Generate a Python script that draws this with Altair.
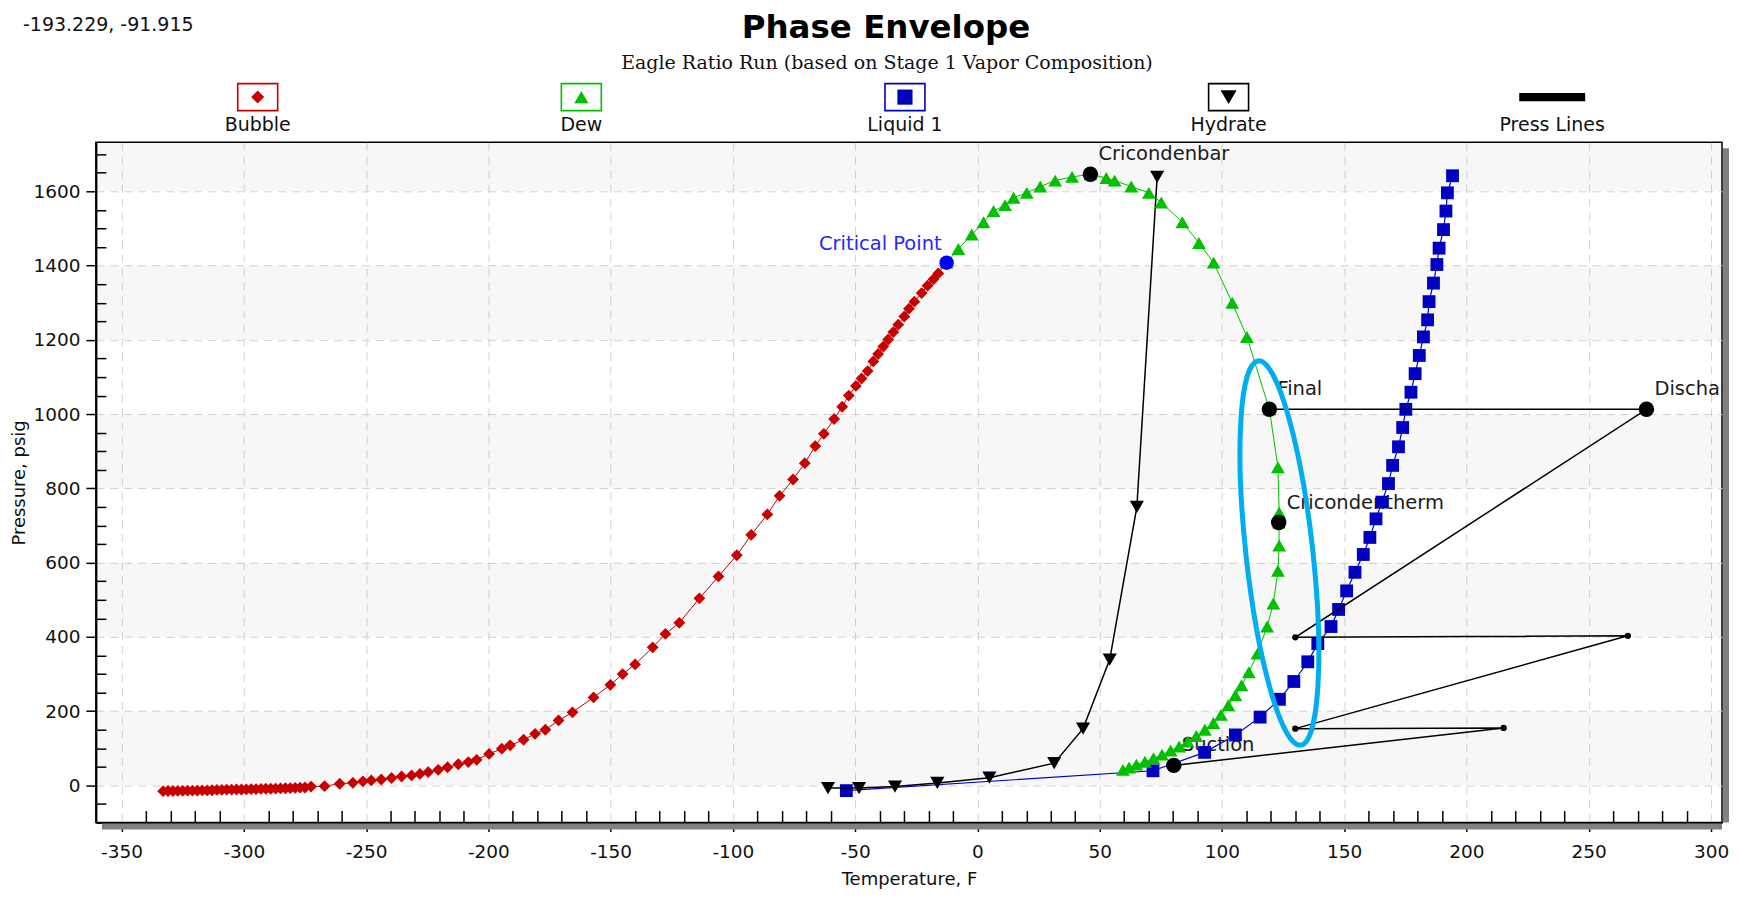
import altair as alt
import pandas as pd

# ---------------- data ----------------
bubble_T = [-333, -331, -329, -327, -325, -323, -321, -319, -317, -315, -313, -311, -309, -307, -305,
            -303, -301, -299, -297, -295, -293, -291, -289, -287, -285, -283, -281, -279, -277, -275,
            -272.5, -267, -260.8, -255.4, -251.3, -247.9, -243.8, -239.6, -235.5, -231.4,
            -228, -224.6, -220.5, -216.7, -212.3, -208.2, -204.8, -199.7, -194.5, -191.1,
            -185.6, -180.9, -176.7, -171.3, -165.6, -157, -150.1, -145.1, -140, -132.8,
            -127.6, -121.9, -113.7, -105.9, -98.4, -92.5, -85.9, -80.9, -75.4, -70.6,
            -66.3, -62.8, -58.6, -55.3, -52.6, -49.7, -47.4, -44.9, -42.6, -40.6,
            -38.5, -36.5, -34.4, -32.4, -29.9, -28, -25.8, -22.8, -20.4, -18, -16, -12.6]
bubble_P = [-15.5, -15, -15, -14.5, -14.5, -14, -14, -14, -13.5, -13.5, -13, -12, -12, -11.5, -11.5,
            -11, -11, -10.5, -10, -10, -9.5, -9, -9, -8.5, -8, -7.5, -7, -6.5, -6, -5.5,
            -3, -2, 4.5, 7, 11, 13.5, 16, 20, 24, 27,
            31, 36, 42, 49, 57, 63, 69, 85, 99, 108,
            123, 139, 150, 175, 197, 237, 271, 300, 326, 372,
            408, 438, 504, 563, 620, 675, 730, 780, 824, 868,
            914, 947, 987, 1020, 1050, 1076, 1096, 1116, 1142, 1162,
            1182, 1201, 1221, 1241, 1263, 1284, 1303, 1326, 1346, 1363, 1379, 1408]

dew_T = [-12.6, -7.8, -2.3, 2.5, 6.6, 11.3, 14.8, 20.2, 25.7, 31.8,
         38.7, 46.2, 52.7, 56.1, 62.9, 70.1, 75.2, 83.8, 90.6, 96.6,
         104.2, 110.2, 119.4, 122.9, 123.4, 123.3, 123.4, 122.9, 121.0, 118.5,
         114.5, 111.0, 108.0, 105.5, 102.6, 99.6, 96.5, 93.0, 89.5, 86.0,
         82.5, 79.0, 75.5, 72.0, 68.5, 65.0, 62.0, 59.5]
dew_P = [1408, 1445, 1484, 1517, 1547, 1563, 1583, 1596, 1613, 1629,
         1639, 1646, 1636, 1629, 1613, 1596, 1570, 1517, 1461, 1408,
         1300, 1208, 1013, 857, 735, 708, 646, 578, 490, 428,
         355, 305, 270, 243, 216, 190, 168, 150, 133, 118,
         105, 94, 83, 73, 64, 56, 48, 42]

liquid_T = [-53.6, 71.8, 92.9, 105.5, 115.6, 123.5, 129.4, 135.1, 139.2, 144.6,
            147.7, 151.0, 154.4, 157.8, 160.5, 163.0, 165.4, 168.1, 169.8, 172.2,
            173.9, 175.2, 177.3, 179.0, 180.7, 182.4, 184.1, 184.7, 186.5, 187.9,
            188.8, 190.6, 191.6, 192.2, 194.3]
liquid_P = [-14, 39.5, 89, 136, 184, 232, 280, 333, 382, 428,
            474, 524, 574, 622, 668, 718, 763, 813, 862, 912,
            964, 1013, 1059, 1109, 1158, 1208, 1254, 1303, 1353, 1403,
            1447, 1497, 1547, 1596, 1642]

hydrate_T = [-61.1, -48.4, -33.7, -16.4, 4.9, 31.4, 43.2, 54.1, 65.2, 73.5]
hydrate_P = [-7, -7, -3, 6.6, 21, 60, 153, 339, 750, 1639]

press_T = [80.3, 215.2, 130.0, 266.0, 130.0, 273.6, 119.4]
press_P = [54, 155, 153, 403, 399, 1013, 1013]

key_names = ["Cricondenbar", "Cricondentherm", "Final", "Suction", "Discharge"]
key_T = [46.2, 123.2, 119.4, 80.3, 273.6]
key_P = [1646, 708, 1013, 54, 1013]

crit_name = ["Critical Point"]
crit_T = [-12.6]
crit_P = [1408]

# highlighted region (hand-drawn ellipse) centre
ring_T = [123.5]
ring_P = [626]

legend_names = ["Bubble", "Dew", "Liquid 1", "Hydrate", "Press Lines"]
legend_colors = ["#C80000", "#00C000", "#0000C0", "#000000", "#000000"]

x_ticks = list(range(-350, 301, 50))
y_ticks = list(range(0, 1601, 200))
x_minor = [v for v in range(-350, 301, 10) if v % 50 != 0]
y_minor = [v for v in range(-50, 1731, 50) if v % 200 != 0]
band_lo = [0, 400, 800, 1200, 1600]
band_hi = [200, 600, 1000, 1400, 1732]

readout = "-193.229, -91.915"
title_text = "Phase Envelope"
subtitle_text = "Eagle Ratio Run (based on Stage 1 Vapor Composition)"

# ---------------- frames ----------------
def frame(T, P):
    return pd.DataFrame({"T": T, "P": P, "i": list(range(len(T)))})

bubble = frame(bubble_T, bubble_P)
dew = frame(dew_T, dew_P)
liquid = frame(liquid_T, liquid_P)
hydrate = frame(hydrate_T, hydrate_P)
press = frame(press_T, press_P)
press_mid = frame(press_T[1:5], press_P[1:5])
keys = pd.DataFrame({"T": key_T, "P": key_P, "name": key_names})
crit = pd.DataFrame({"T": crit_T, "P": crit_P, "name": crit_name})
ring = pd.DataFrame({"T": ring_T, "P": ring_P})
bands = pd.DataFrame({"lo": band_lo, "hi": band_hi})

FONT = "DejaVu Sans"
W, H = 1628, 681
xs = alt.Scale(domain=[-360.5, 304.5], nice=False, zero=False)
ys = alt.Scale(domain=[-100, 1732], nice=False, zero=False)


def X(field="T", axis=None):
    if axis is None:
        return alt.X(field + ":Q", scale=xs, axis=None)
    return alt.X(field + ":Q", scale=xs, axis=axis)


def Y(field="P", axis=None):
    if axis is None:
        return alt.Y(field + ":Q", scale=ys, axis=None)
    return alt.Y(field + ":Q", scale=ys, axis=axis)


major_x = alt.Axis(values=x_ticks, orient="bottom", grid=True, gridDash=[8, 6], gridColor="#D4D4D4",
                   gridWidth=1, tickSize=9, tickWidth=1.5, tickColor="black", domainColor="black",
                   domainWidth=2, labelFont=FONT, labelFontSize=18.5, labelColor="#111111",
                   labelPadding=11, labelFlush=False, labelExpr="toString(datum.value)",
                   title="Temperature, F", titleFont=FONT, titleFontSize=18,
                   titleFontWeight="normal", titleColor="#111111", titlePadding=10)
major_y = alt.Axis(values=y_ticks, orient="left", grid=True, gridDash=[8, 6], gridColor="#D4D4D4",
                   gridWidth=1, tickSize=10, tickWidth=1.5, tickColor="black", domainColor="black",
                   domainWidth=2, labelFont=FONT, labelFontSize=18.5, labelColor="#111111",
                   labelPadding=6, labelFlush=False, labelExpr="toString(datum.value)",
                   title="Pressure, psig", titleFont=FONT, titleFontSize=18,
                   titleFontWeight="normal", titleColor="#111111", titlePadding=4)
minor_x = alt.Axis(values=x_minor, orient="bottom", offset=-12, tickSize=12, tickWidth=1.5,
                   tickColor="black", labels=False, domain=False, grid=False, title=None)
minor_y = alt.Axis(values=y_minor, orient="left", offset=-10, tickSize=10, tickWidth=1.5,
                   tickColor="black", labels=False, domain=False, grid=False, title=None)

band_layer = alt.Chart(bands).mark_rect(color="#000000", opacity=0.03).encode(
    y=Y("lo"), y2="hi")

label_layer = alt.Chart(keys).mark_text(align="left", baseline="middle", dx=8, dy=-20, font=FONT,
                                        fontSize=19.5, color="#1A1A1A", clip=True).encode(
    x=X(), y=Y(), text="name:N")
crit_label = alt.Chart(crit).mark_text(align="right", baseline="middle", dx=-5, dy=-19, font=FONT,
                                       fontSize=19.5, color="#2626FF").encode(
    x=X(), y=Y(), text="name:N")

bubble_line = alt.Chart(bubble).mark_line(color="#C80000", strokeWidth=1).encode(
    x=X(axis=major_x), y=Y(axis=major_y), order="i:Q")
bubble_pts = alt.Chart(bubble).mark_point(shape="diamond", filled=True, size=140, color="#C80000",
                                          opacity=1).encode(x=X(), y=Y())

liquid_line = alt.Chart(liquid).mark_line(color="#0000C8", strokeWidth=1.2).encode(
    x=X(), y=Y(), order="i:Q")
liquid_pts = alt.Chart(liquid).mark_point(shape="square", filled=True, size=165, color="#0000C0",
                                          opacity=1).encode(x=X(), y=Y())

hydrate_line = alt.Chart(hydrate).mark_line(color="#000000", strokeWidth=1.5).encode(
    x=X(), y=Y(), order="i:Q")
hydrate_pts = alt.Chart(hydrate).mark_point(shape="triangle-down", filled=True, size=200,
                                            color="#000000", opacity=1).encode(x=X(), y=Y())

dew_line = alt.Chart(dew).mark_line(color="#00C000", strokeWidth=1).encode(
    x=X(axis=minor_x), y=Y(axis=minor_y), order="i:Q")
dew_pts = alt.Chart(dew).mark_point(shape="triangle-up", filled=True, size=190, color="#00C000",
                                    opacity=1).encode(x=X(), y=Y())

press_line = alt.Chart(press).mark_line(color="#000000", strokeWidth=1.5).encode(
    x=X(), y=Y(), order="i:Q")
press_dots = alt.Chart(press_mid).mark_point(shape="circle", filled=True, size=40, color="#000000",
                                             opacity=1).encode(x=X(), y=Y())

key_pts = alt.Chart(keys).mark_point(shape="circle", filled=True, size=240, color="#000000",
                                     opacity=1).encode(x=X(), y=Y())
crit_pt = alt.Chart(crit).mark_point(shape="circle", filled=True, size=210, color="#0000FF",
                                     opacity=1).encode(x=X(), y=Y())

ELLIPSE = "M0,-1A0.173,1,0,1,1,0,1A0.173,1,0,1,1,0,-1Z"
ring_layer = alt.Chart(ring).mark_point(shape=ELLIPSE, filled=False, size=149769, angle=353.7,
                                        stroke="#00AEEF", strokeWidth=5, opacity=1).encode(
    x=X(), y=Y())

edge = pd.DataFrame({"x0": [-360.5], "x1": [304.5], "y0": [-100], "y1": [1732]})
shadow_r = alt.Chart(edge).mark_rule(color="#808080", strokeWidth=6, xOffset=4, yOffset=6).encode(
    x=X("x1"), y=Y("y1"), y2="y0")
shadow_b = alt.Chart(edge).mark_rule(color="#808080", strokeWidth=6, xOffset=6, yOffset=4).encode(
    x=X("x0"), x2="x1", y=Y("y0"))

main = alt.layer(
    band_layer, label_layer, crit_label,
    bubble_line, bubble_pts,
    liquid_line, liquid_pts,
    hydrate_line, hydrate_pts,
    dew_line, dew_pts,
    press_line, press_dots,
    key_pts, crit_pt, ring_layer,
    shadow_b, shadow_r,
).resolve_axis(x="independent", y="independent").properties(width=W, height=H)

# ---------------- header: title, subtitle, read-out and legend ----------------
BOX = "M-0.8,-0.54L0.8,-0.54L0.8,0.54L-0.8,0.54Z"
BAR = "M-1,-0.125L1,-0.125L1,0.125L-1,0.125Z"
LW, LH = 1620, 134
SYM_Y, LAB_Y = 88.7, 117
xleg = alt.X("name:N", sort=legend_names, scale=alt.Scale(domain=legend_names), axis=None)
cleg = alt.Color("name:N", scale=alt.Scale(domain=legend_names, range=legend_colors), legend=None)
leg_df = pd.DataFrame({"name": legend_names})
box_df = pd.DataFrame({"name": legend_names[:4]})

leg_boxes = alt.Chart(box_df).mark_point(shape=BOX, size=2500, filled=False, strokeWidth=1.6,
                                         opacity=1).encode(x=xleg, y=alt.value(SYM_Y), color=cleg)
leg_marks = alt.Chart(box_df).mark_point(filled=True, opacity=1).encode(
    x=xleg, y=alt.value(SYM_Y), color=cleg,
    shape=alt.Shape("name:N", scale=alt.Scale(domain=legend_names[:4],
                                             range=["diamond", "triangle-up", "square", "triangle-down"]),
                    legend=None),
    size=alt.Size("name:N", scale=alt.Scale(domain=legend_names[:4], range=[170, 260, 150, 200]),
                  legend=None))
leg_bar = alt.Chart(pd.DataFrame({"name": legend_names[4:]})).mark_point(
    shape=BAR, size=4356, filled=True, color="black", opacity=1).encode(x=xleg, y=alt.value(SYM_Y))
leg_text = alt.Chart(leg_df).mark_text(font=FONT, fontSize=19, color="#111111",
                                       baseline="middle").encode(x=xleg, y=alt.value(LAB_Y),
                                                                 text="name:N")
one = pd.DataFrame({"t": [title_text], "s": [subtitle_text], "r": [readout]})
title_layer = alt.Chart(one).mark_text(font=FONT, fontSize=32.5, fontWeight="bold", color="#000000",
                                       align="center", baseline="alphabetic").encode(
    x=alt.value(791), y=alt.value(29.5), text="t:N")
subtitle_layer = alt.Chart(one).mark_text(font="DejaVu Serif", fontSize=19, color="#111111",
                                          align="center", baseline="alphabetic").encode(
    x=alt.value(792), y=alt.value(60.3), text="s:N")
readout_layer = alt.Chart(one).mark_text(font=FONT, fontSize=19, color="#111111", align="left",
                                         baseline="middle").encode(
    x=alt.value(-73), y=alt.value(16.5), text="r:N")

header = alt.layer(title_layer, subtitle_layer, readout_layer,
                   leg_boxes, leg_marks, leg_bar, leg_text).properties(
    width=LW, height=LH, view=alt.ViewBackground(strokeOpacity=0))

chart = alt.vconcat(
    header, main, spacing=0, bounds="flush",
    padding={"left": 2, "top": 0, "right": 0, "bottom": 0},
).resolve_scale(x="independent", y="independent", color="independent", shape="independent",
                size="independent").configure_view(stroke="black", strokeWidth=1.5)

chart.save("out.html", embed_options={"renderer": "svg", "actions": False})
